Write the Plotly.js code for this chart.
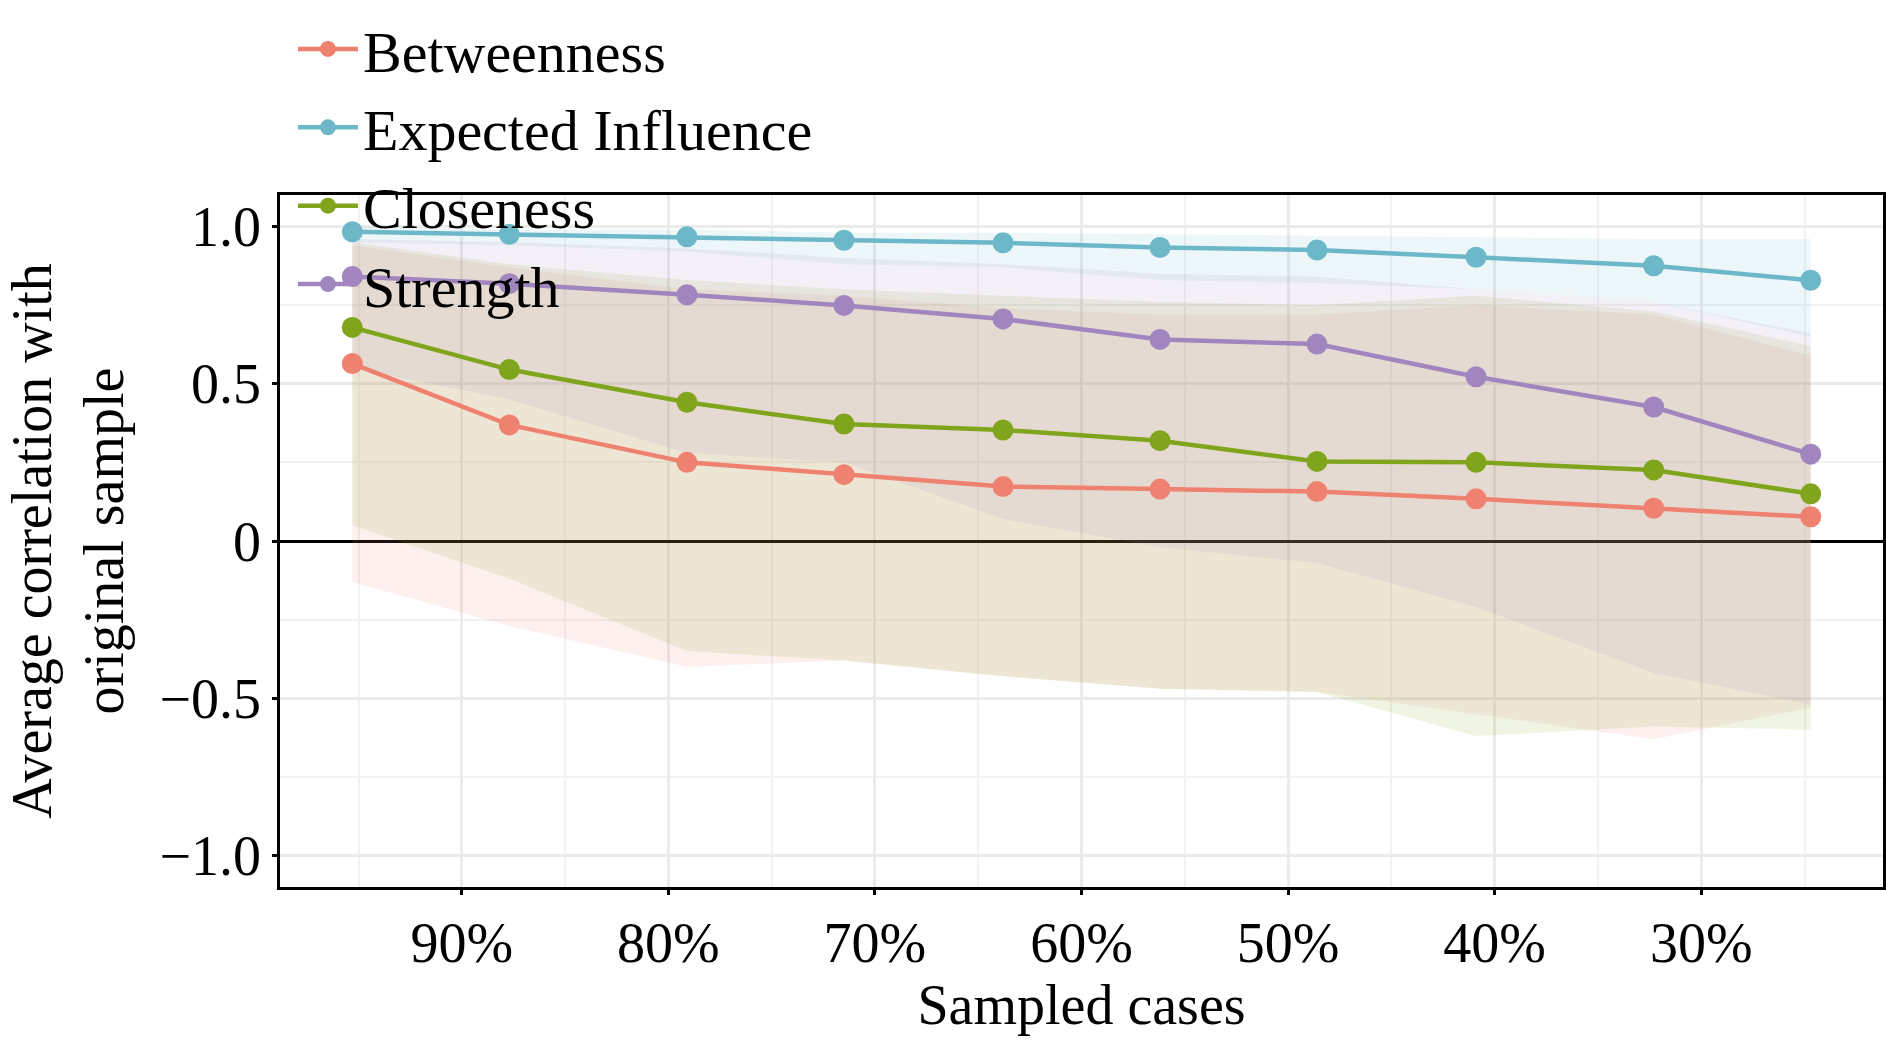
<!DOCTYPE html>
<html>
<head>
<meta charset="utf-8">
<script src="https://cdn.plot.ly/plotly-3.0.1.min.js"></script>
<style>body{margin:0;background:#fff}#chart{width:1886px;height:1043px}</style>
</head>
<body>
<div id="chart"></div>
<script>
// sampled cases (% of original sample)
var sampled = [95.3, 87.7, 79.1, 71.5, 63.8, 56.2, 48.6, 40.9, 32.3, 24.7];

var betweenness = [0.564, 0.369, 0.250, 0.211, 0.173, 0.165, 0.157, 0.134, 0.104, 0.077];
var betweenness_lo = [-0.13, -0.27, -0.40, -0.38, -0.43, -0.47, -0.48, -0.55, -0.63, -0.53];
var betweenness_hi = [0.94, 0.87, 0.80, 0.78, 0.74, 0.72, 0.72, 0.75, 0.72, 0.59];

var closeness = [0.679, 0.545, 0.441, 0.372, 0.353, 0.319, 0.253, 0.250, 0.226, 0.150];
var closeness_lo = [0.05, -0.12, -0.35, -0.38, -0.43, -0.47, -0.48, -0.62, -0.59, -0.60];
var closeness_hi = [0.95, 0.88, 0.83, 0.80, 0.78, 0.76, 0.75, 0.78, 0.73, 0.62];

var strength = [0.841, 0.818, 0.783, 0.749, 0.706, 0.641, 0.626, 0.522, 0.426, 0.276];
var strength_lo = [0.55, 0.45, 0.28, 0.25, 0.07, -0.02, -0.07, -0.21, -0.42, -0.52];
var strength_hi = [0.96, 0.95, 0.93, 0.90, 0.88, 0.85, 0.84, 0.80, 0.76, 0.66];

var expinf = [0.983, 0.975, 0.967, 0.956, 0.948, 0.933, 0.925, 0.902, 0.875, 0.829];
var expinf_lo = [0.95, 0.94, 0.92, 0.88, 0.87, 0.83, 0.82, 0.80, 0.76, 0.65];
var expinf_hi = [1.0, 0.99, 0.99, 0.98, 0.98, 0.975, 0.97, 0.965, 0.96, 0.96];

var series = [
    {name: 'Betweenness', y: betweenness, lo: betweenness_lo, hi: betweenness_hi, color: '#EF8170', fill: 'rgba(239,129,112,0.12)', rank: 1},
    {name: 'Expected Influence', y: expinf, lo: expinf_lo, hi: expinf_hi, color: '#6CB8C9', fill: 'rgba(108,184,201,0.12)', rank: 2},
    {name: 'Closeness', y: closeness, lo: closeness_lo, hi: closeness_hi, color: '#80A51C', fill: 'rgba(128,165,28,0.12)', rank: 3},
    {name: 'Strength', y: strength, lo: strength_lo, hi: strength_hi, color: '#A185BE', fill: 'rgba(161,133,190,0.12)', rank: 4}
];

var data = [];
series.forEach(function(s){
    data.push({x: sampled, y: s.lo, type: 'scatter', mode: 'lines', line: {width: 0}, showlegend: false, hoverinfo: 'skip'});
    data.push({x: sampled, y: s.hi, type: 'scatter', mode: 'lines', line: {width: 0}, fill: 'tonexty', fillcolor: s.fill, showlegend: false, hoverinfo: 'skip'});
});
series.forEach(function(s){
    data.push({x: sampled, y: s.y, name: s.name, legendrank: s.rank, type: 'scatter', mode: 'lines+markers',
        line: {color: s.color, width: 4.5}, marker: {color: s.color, size: 21}});
});

var layout = {
    width: 1886, height: 1043,
    margin: {l: 280, r: 3, t: 195, b: 156},
    paper_bgcolor: '#fff', plot_bgcolor: '#fff',
    font: {family: 'Liberation Serif', size: 54, color: '#000'},
    showlegend: true,
    legend: {orientation: 'h', x: 0.185, xanchor: 'left', y: 1.275, yanchor: 'top',
        bgcolor: 'rgba(0,0,0,0)',
        entrywidth: 455, entrywidthmode: 'pixels', traceorder: 'normal',
        font: {size: 58}, itemwidth: 60},
    xaxis: {
        range: [98.8, 21.2], tickvals: [90, 80, 70, 60, 50, 40, 30],
        ticktext: ['90%', '80%', '70%', '60%', '50%', '40%', '30%'],
        showgrid: true, gridcolor: '#EBEBEB', gridwidth: 3,
        minor: {tickvals: [95, 85, 75, 65, 55, 45, 35, 25], showgrid: true, gridcolor: '#F2F2F2', gridwidth: 2},
        ticks: 'outside', ticklen: 5, tickwidth: 3, tickcolor: '#000',
        showline: true, linecolor: '#000', linewidth: 2.5, mirror: true, zeroline: false,
        tickfont: {size: 56},
        title: {text: 'Sampled cases', font: {size: 56}, standoff: 8}
    },
    yaxis: {
        range: [-1.1, 1.1], tickvals: [1, 0.5, 0, -0.5, -1],
        ticktext: ['1.0', '0.5', '0', '\u22120.5', '\u22121.0'],
        showgrid: true, gridcolor: '#EBEBEB', gridwidth: 3,
        minor: {tickvals: [0.75, 0.25, -0.25, -0.75], showgrid: true, gridcolor: '#F2F2F2', gridwidth: 2},
        ticks: 'outside', ticklen: 5, tickwidth: 3, tickcolor: '#000',
        showline: true, linecolor: '#000', linewidth: 2.5, mirror: true,
        zeroline: true, zerolinecolor: '#000', zerolinewidth: 3,
        tickfont: {size: 56},
        title: {text: 'Average correlation with<br>original sample', font: {size: 56}, standoff: 18}
    }
};

Plotly.newPlot('chart', data, layout, {displayModeBar: false});
</script>
</body>
</html>
